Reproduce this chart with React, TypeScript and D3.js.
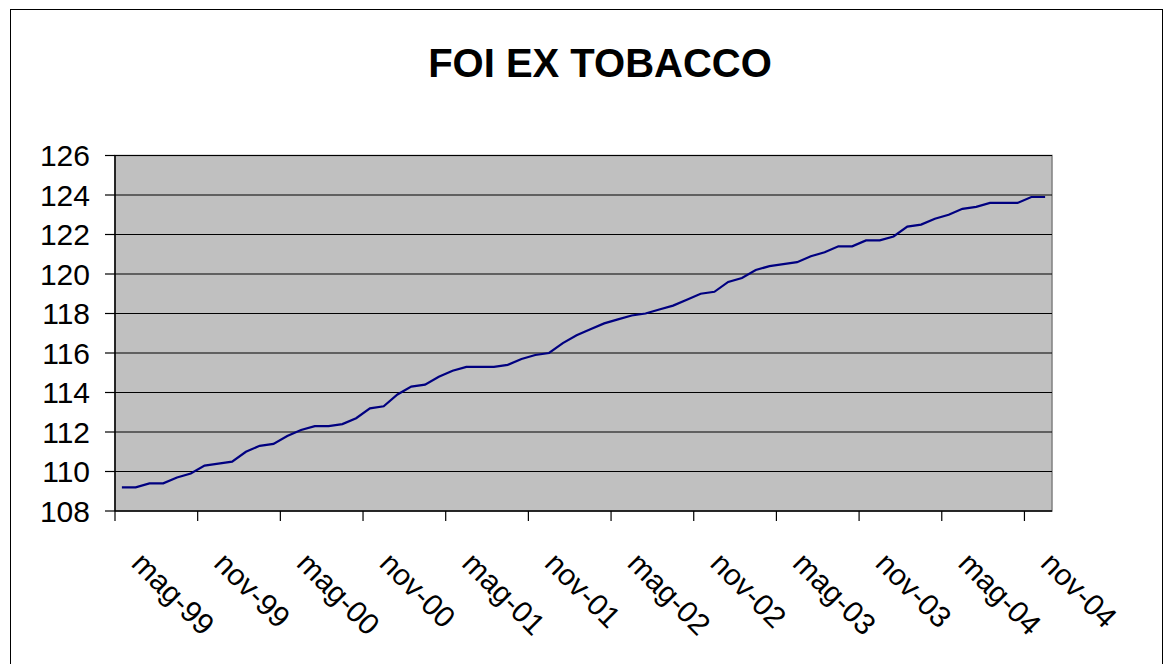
import React from "react";
import * as d3 from "d3";

const monthNames = ["gen", "feb", "mar", "apr", "mag", "giu", "lug", "ago", "set", "ott", "nov", "dic"];
const startYear = 1999;
const startMonth = 4; // May
const values = [
  109.2, 109.2, 109.4, 109.4, 109.7, 109.9, 110.3, 110.4, 110.5, 111.0, 111.3, 111.4,
  111.8, 112.1, 112.3, 112.3, 112.4, 112.7, 113.2, 113.3, 113.9, 114.3, 114.4, 114.8,
  115.1, 115.3, 115.3, 115.3, 115.4, 115.7, 115.9, 116.0, 116.5, 116.9, 117.2, 117.5,
  117.7, 117.9, 118.0, 118.2, 118.4, 118.7, 119.0, 119.1, 119.6, 119.8, 120.2, 120.4,
  120.5, 120.6, 120.9, 121.1, 121.4, 121.4, 121.7, 121.7, 121.9, 122.4, 122.5, 122.8,
  123.0, 123.3, 123.4, 123.6, 123.6, 123.6, 123.9, 123.9,
];
const categories = values.map((_, i) => {
  const m = (startMonth + i) % 12;
  const y = startYear + Math.floor((startMonth + i) / 12);
  return `${monthNames[m]}-${String(y % 100).padStart(2, "0")}`;
});
const yTicks = [108, 110, 112, 114, 116, 118, 120, 122, 124, 126];
const labelEvery = 6;
const title = "FOI EX TOBACCO";

export default function App() {
  const W = 1173, H = 664;
  const left = 115, right = 1052, top = 155.5, bottom = 511;
  const x = d3.scaleBand<string>().domain(categories).range([left, right]).padding(0);
  const y = d3.scaleLinear().domain([108, 126]).range([bottom, top]);
  const line = d3
    .line<number>()
    .x((_, i) => (x(categories[i]) as number) + x.bandwidth() / 2)
    .y((d) => y(d));
  const font = "'Liberation Sans', Arial, sans-serif";
  const tickIdx = d3.range(0, categories.length + 1, labelEvery);
  return (
    <svg width={W} height={H} style={{ position: "absolute", left: 0, top: 0, background: "#fff" }} fontFamily={font}>
      <rect x={10.5} y={9.5} width={1152} height={700} fill="#fff" stroke="#000" strokeWidth={1} />
      <text x={600} y={77} textAnchor="middle" fontSize={40} fontWeight="bold">{title}</text>
      <rect x={left} y={top} width={right - left} height={bottom - top} fill="#C0C0C0" stroke="#808080" strokeWidth={1.5} />
      {yTicks.slice(1).map((t) => (
        <line key={t} x1={left} x2={right} y1={y(t)} y2={y(t)} stroke="#000" strokeWidth={1.2} />
      ))}
      <path d={line(values) || ""} fill="none" stroke="#000080" strokeWidth={2.2} />
      <line x1={left} x2={left} y1={top} y2={bottom} stroke="#000" strokeWidth={1.5} />
      <line x1={left} x2={right} y1={bottom} y2={bottom} stroke="#000" strokeWidth={1.5} />
      {yTicks.map((t) => (
        <g key={t}>
          <line x1={left - 10} x2={left} y1={y(t)} y2={y(t)} stroke="#000" strokeWidth={1.2} />
          <text x={90} y={y(t)} dy="0.36em" textAnchor="end" fontSize={30}>{t}</text>
        </g>
      ))}
      {tickIdx.map((i) => {
        const xx = left + i * x.bandwidth();
        return <line key={i} x1={xx} x2={xx} y1={bottom} y2={bottom + 10} stroke="#000" strokeWidth={1.2} />;
      })}
      {categories.map((c, i) =>
        i % labelEvery === 0 ? (
          <text
            key={c}
            transform={`translate(${(x(c) as number) + x.bandwidth() / 2 + 8},565) rotate(45)`}
            fontSize={30}
          >
            {c}
          </text>
        ) : null
      )}
    </svg>
  );
}
